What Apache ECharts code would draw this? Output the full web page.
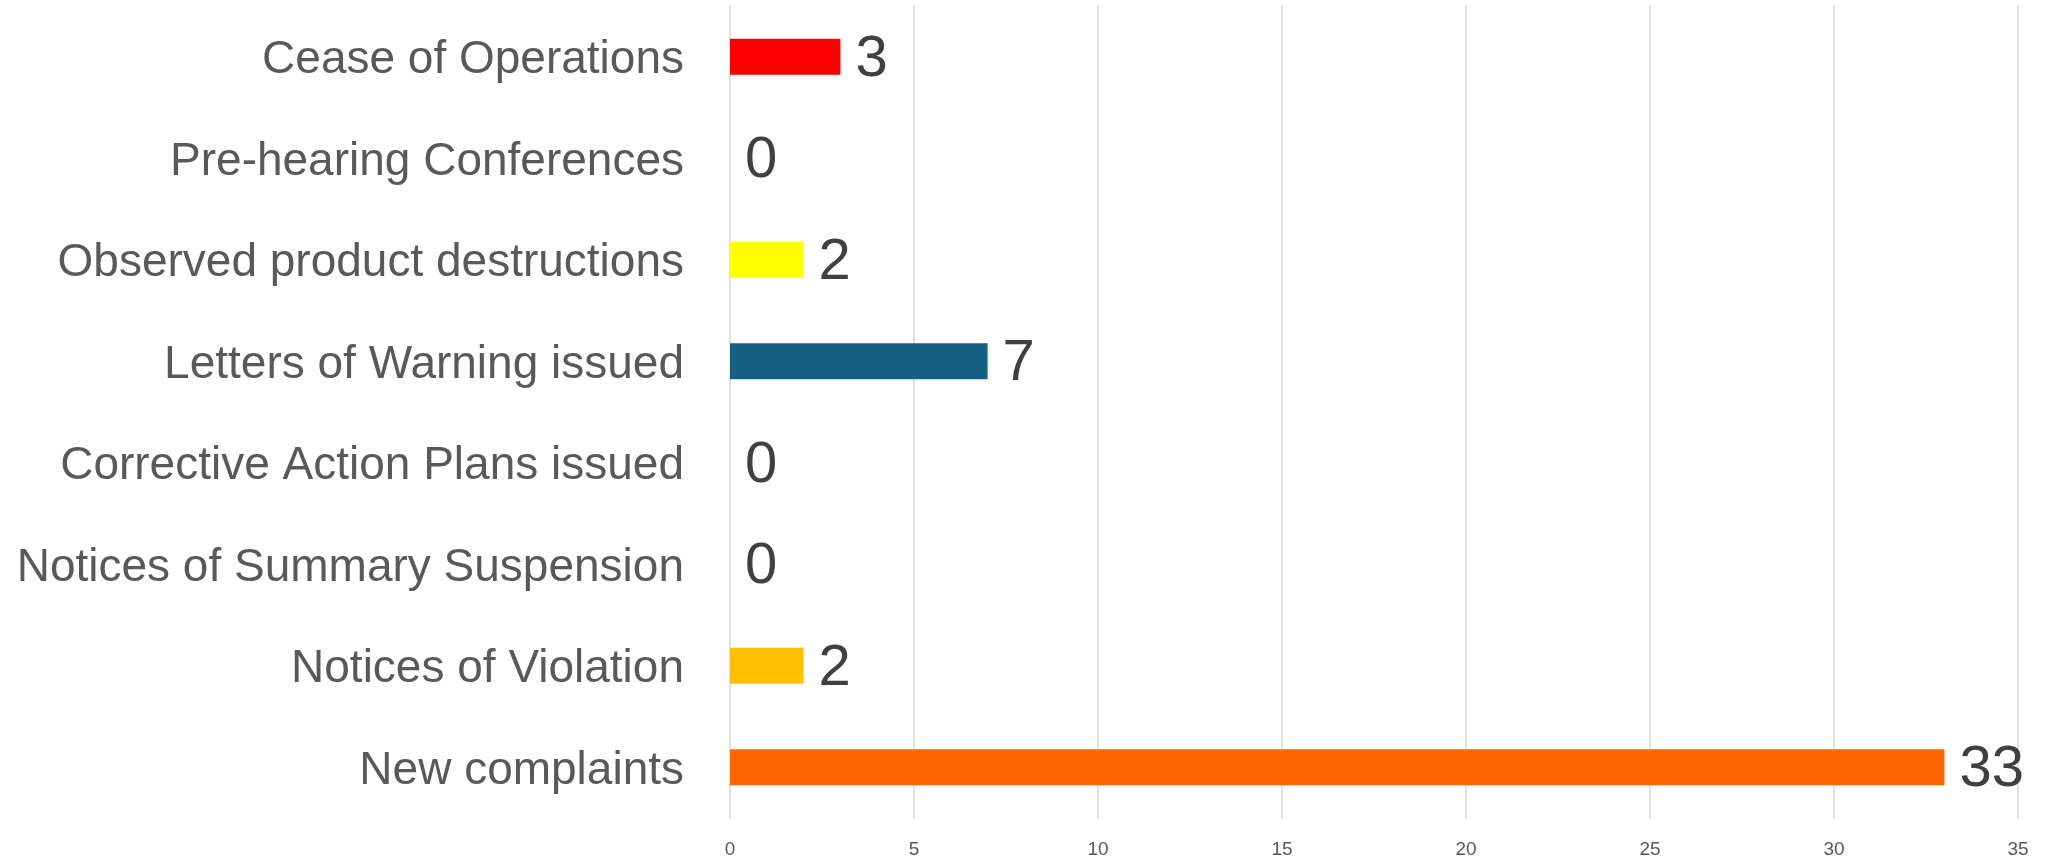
<!DOCTYPE html>
<html>
<head>
<meta charset="utf-8">
<script src="https://cdn.jsdelivr.net/npm/echarts@6/dist/echarts.min.js"></script>
<style>
html, body { margin: 0; padding: 0; background: #fff; }
#chart { width: 2051px; height: 865px; }
</style>
</head>
<body>
<div id="chart"></div>
<script>
// top to bottom
var categories = ['Cease of Operations', 'Pre-hearing Conferences', 'Observed product destructions',
	'Letters of Warning issued', 'Corrective Action Plans issued', 'Notices of Summary Suspension',
	'Notices of Violation', 'New complaints'];
var counts = [3, 0, 2, 7, 0, 0, 2, 33];
var barColors = ['#FF0000', '#FF0000', '#FFFF00', '#156082', '#156082', '#156082', '#FFC000', '#FF6600'];
var xTicks = [0, 5, 10, 15, 20, 25, 30, 35];

var myChart = echarts.init(document.getElementById('chart'));

var barData = [];
for (var i = 0; i < counts.length; i++) {
	barData.push({ value: counts[i], itemStyle: { color: barColors[i] } });
}

var option = {
	backgroundColor: '#ffffff',
	animation: false,
	textStyle: { fontFamily: 'Liberation Sans, Arial, sans-serif' },
	grid: { left: 730, right: 33, top: 6, bottom: 47 },
	xAxis: {
		type: 'value',
		min: xTicks[0],
		max: xTicks[xTicks.length - 1],
		interval: 5,
		axisLine: { show: false },
		axisTick: { show: false },
		axisLabel: { fontSize: 19, color: '#595959', margin: 22 },
		splitLine: { show: true, lineStyle: { color: '#d9d9d9', width: 1.5 } }
	},
	yAxis: {
		type: 'category',
		inverse: true,
		data: categories,
		axisLine: { show: false },
		axisTick: { show: false },
		axisLabel: {
			margin: 46,
			formatter: function (v) { return '{c|' + v + '}'; },
			rich: { c: { fontSize: 46, color: '#595959', padding: [8, 0, 0, 0] } }
		}
	},
	series: [{
		type: 'bar',
		data: barData,
		barWidth: 36,
		label: {
			show: true,
			position: 'right',
			distance: 15,
			offset: [0, 3],
			fontSize: 58,
			color: '#404040'
		}
	}]
};
myChart.setOption(option);
</script>
</body>
</html>
